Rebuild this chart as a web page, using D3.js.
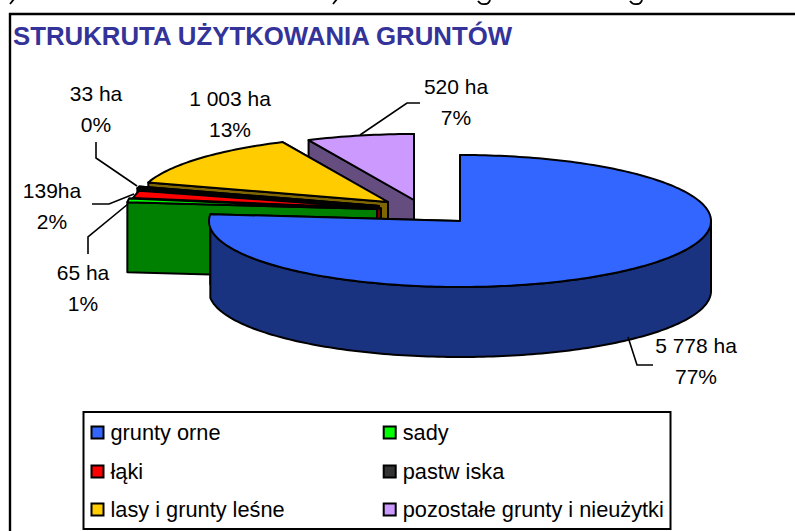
<!DOCTYPE html>
<html><head><meta charset="utf-8">
<script src="https://cdn.jsdelivr.net/npm/d3@7"></script>
<style>html,body{margin:0;padding:0;background:#fff}svg{display:block}text{font-family:"Liberation Sans",Arial,sans-serif}</style>
</head><body><svg id="c" width="795" height="531"></svg>
<script>
const categories = ["grunty orne","sady","łąki","pastwiska","lasy i grunty leśne","pozostałe grunty i nieużytki"];
const hectares = [5778,65,139,33,1003,520];
const haLabels = ["5 778 ha","65 ha","139ha","33 ha","1 003 ha","520 ha"];
const pctLabels = ["77%","1%","2%","0%","13%","7%"];
const legendText = ["grunty orne","sady","łąki","pastw iska","lasy i grunty leśne","pozostałe grunty i nieużytki"];
const topColors = ["#3366FF","#00FF00","#FF0000","#333333","#FFCC00","#CC99FF"];
const sideColors = ["#1A3380","#008000","#800000","#1A1A1A","#806600","#664D80"];
// layout
const cx=460, cy=221, rx=251, ry=66, depth=70;
const shifts=[[0,0],[-83,-12],[-79,-12.5],[-81,-15],[-72,-19],[-46,-21]];
const paintOrder=[5,4,3,2,1,0];
const labelPos=[[696,346],[83,273],[52,191],[96,94],[230,99],[456,87]];
const leaders=[
 [[628,337],[637,365],[653,365]],
 [[128,204],[88,237],[88,254]],
 [[134,194],[109,204],[92,204]],
 [[137,186],[96,158],[96,142]],
 null,
 [[360,135],[407,103],[420,103]]
];
const svg=d3.select("#c");
// stray descenders of the cropped text above the chart
[[[14,-1],[10,4]],[[337,-1],[333,4]]].forEach(p=>svg.append("path").attr("d",d3.line()(p)).attr("stroke","#000").attr("stroke-width",1.8).attr("fill","none"));
[478,630].forEach(x=>svg.append("path").attr("d",`M${x},1 Q${x+3},5 ${x+7},4 Q${x+11},4 ${x+12},0`).attr("stroke","#000").attr("stroke-width",1.8).attr("fill","none"));
// frame
svg.append("path").attr("d","M10,531V14H795").attr("fill","none").attr("stroke","#000").attr("stroke-width",2.4);
svg.append("text").attr("x",13).attr("y",45).attr("font-size",25.8).attr("font-weight","bold").attr("fill","#333399").text("STRUKRUTA UŻYTKOWANIA GRUNTÓW");

const arcs=d3.pie().sort(null).startAngle(0).endAngle(2*Math.PI)(hectares);
const ex=d3.scaleLinear().domain([-1,1]).range([-rx,rx]);
const ey=d3.scaleLinear().domain([-1,1]).range([-ry,ry]);
const pt=(a,s,dz=0)=>[cx+s[0]+ex(Math.sin(a)),cy+s[1]-ey(Math.cos(a))+dz];
const arcPts=(a0,a1,s,dz=0)=>{const n=Math.max(2,Math.ceil((a1-a0)/0.02));return d3.range(n+1).map(i=>pt(a0+(a1-a0)*i/n,s,dz));};
const line=d3.line();
const poly=p=>line(p)+"Z";
const g=svg.append("g").attr("stroke","#000").attr("stroke-width",2).attr("stroke-linejoin","round");
paintOrder.forEach(i=>{
  const d=arcs[i], s=shifts[i], apex=[cx+s[0],cy+s[1]];
  const faces=[d.startAngle,d.endAngle].map(a=>({a,p:pt(a,s)})).sort((u,v)=>u.p[1]-v.p[1]);
  faces.forEach(f=>{
    g.append("path").attr("fill",sideColors[i]).attr("d",poly([apex,f.p,[f.p[0],f.p[1]+depth],[apex[0],apex[1]+depth]]));
  });
  const west=3*Math.PI/2;
  const w0=Math.max(d.startAngle,Math.PI/2), w1=d.endAngle>west?2*west-d.endAngle:d.endAngle;
  if(w1>w0){
    g.append("path").attr("fill",sideColors[i]).attr("d",poly(arcPts(w0,w1,s).concat(arcPts(w0,w1,s,depth).reverse())));
  }
  g.append("path").attr("fill",topColors[i]).attr("d",poly([apex].concat(arcPts(d.startAngle,d.endAngle,s))));
});
// leaders
leaders.forEach(l=>{if(l)svg.append("path").attr("d",line(l)).attr("fill","none").attr("stroke","#000").attr("stroke-width",1.6);});
// labels
labelPos.forEach((p,i)=>{
  const t=svg.append("text").attr("text-anchor","middle").attr("font-size",21).attr("fill","#000");
  t.append("tspan").attr("x",p[0]).attr("y",p[1]+7).text(haLabels[i]);
  t.append("tspan").attr("x",p[0]).attr("y",p[1]+38).text(pctLabels[i]);
});
// legend
svg.append("rect").attr("x",83.5).attr("y",412).attr("width",587).attr("height",117).attr("fill","#fff").attr("stroke","#000").attr("stroke-width",2);
const lx=[91.5,383.7], ly=[432.5,471.5,509.5];
categories.forEach((c,i)=>{
  const x=lx[i%2], y=ly[Math.floor(i/2)];
  svg.append("rect").attr("x",x).attr("y",y-6).attr("width",12).attr("height",12).attr("fill",topColors[i]).attr("stroke","#000").attr("stroke-width",2);
  svg.append("text").attr("x",x+19).attr("y",y+7.5).attr("font-size",21.75).attr("fill","#000").text(legendText[i]);
});
</script></body></html>
